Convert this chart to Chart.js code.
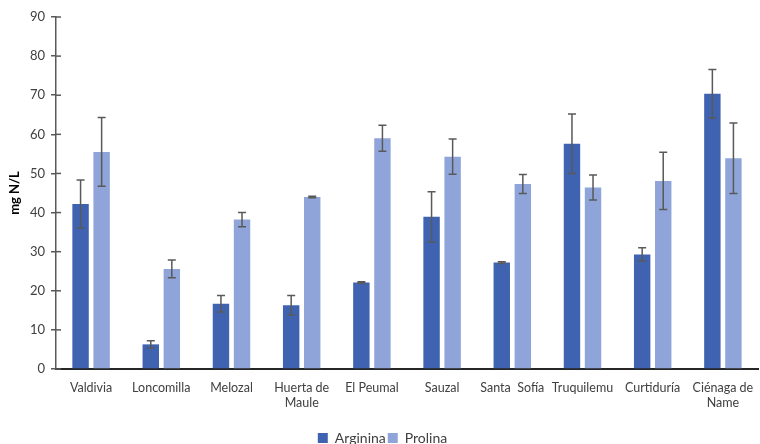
<!DOCTYPE html>
<html><head><meta charset="utf-8">
<script src="https://cdn.jsdelivr.net/npm/chart.js@4"></script>
<style>html,body{margin:0;padding:0;background:#fff}#wrap{width:760px;height:444px}</style>
</head><body><div id="wrap"><canvas id="c" width="760" height="444"></canvas></div>
<script>
const categories = ['Valdivia','Loncomilla','Melozal',['Huerta de','Maule'],'El Peumal','Sauzal','Santa  Sofía','Truquilemu','Curtiduría',['Ciénaga de','Name']];
const arginina = [42.2, 6.3, 16.7, 16.3, 22.1, 38.9, 27.2, 57.6, 29.3, 70.4];
const argininaErr = [6.1, 0.9, 2.1, 2.5, 0.2, 6.4, 0.2, 7.6, 1.7, 6.2];
const prolina = [55.5, 25.6, 38.2, 44.0, 59.0, 54.3, 47.3, 46.4, 48.1, 53.9];
const prolinaErr = [8.8, 2.3, 1.8, 0.2, 3.3, 4.5, 2.4, 3.2, 7.3, 9.0];
const yTicks = [0,10,20,30,40,50,60,70,80,90];

const FONT = 'Lato, "Liberation Sans", sans-serif';
const errs = [argininaErr, prolinaErr];

const errorBars = {
  id: 'errorBars',
  afterDatasetsDraw(chart) {
    const ctx = chart.ctx, y = chart.scales.y;
    ctx.save();
    ctx.strokeStyle = '#595959';
    ctx.lineWidth = 1.5;
    chart.data.datasets.forEach((ds, di) => {
      const meta = chart.getDatasetMeta(di);
      meta.data.forEach((bar, i) => {
        const v = ds.data[i], e = errs[di][i];
        const yt = y.getPixelForValue(v + e), yb = y.getPixelForValue(v - e);
        ctx.beginPath();
        ctx.moveTo(bar.x, yt); ctx.lineTo(bar.x, yb);
        ctx.moveTo(bar.x - 4, yt); ctx.lineTo(bar.x + 4, yt);
        ctx.moveTo(bar.x - 4, yb); ctx.lineTo(bar.x + 4, yb);
        ctx.stroke();
      });
    });
    ctx.restore();
  }
};
const yCross = {
  id: 'yCross',
  afterDraw(chart) {
    const ctx = chart.ctx, y = chart.scales.y, x0 = chart.chartArea.left;
    ctx.save();
    ctx.strokeStyle = '#595959';
    ctx.lineWidth = 1.5;
    yTicks.forEach(t => {
      const py = y.getPixelForValue(t);
      ctx.beginPath(); ctx.moveTo(x0, py); ctx.lineTo(x0 + 5, py); ctx.stroke();
    });
    ctx.restore();
  }
};

new Chart(document.getElementById('c'), {
  type: 'bar',
  data: {
    labels: categories,
    datasets: [
      { label: 'Arginina', data: arginina, backgroundColor: '#3f63b0', categoryPercentage: 0.6, barPercentage: 0.78 },
      { label: 'Prolina', data: prolina, backgroundColor: '#8fa5d9', categoryPercentage: 0.6, barPercentage: 0.78 }
    ]
  },
  options: {
    responsive: false,
    animation: false,
    layout: { padding: { left: 7, right: 2, top: 17, bottom: -11 } },
    plugins: {
      legend: {
        position: 'bottom',
        labels: { font: { family: FONT, size: 14 }, color: '#404040', boxWidth: 10, boxHeight: 10, padding: 2 }
      },
      tooltip: { enabled: false }
    },
    scales: {
      x: {
        grid: { display: false },
        border: { display: true, color: '#262626', width: 2 },
        ticks: { font: { family: FONT, size: 12.5 }, color: '#404040', padding: 3, maxRotation: 0, autoSkip: false },
        afterFit(s) { s.height = 60; }
      },
      y: {
        min: 0, max: 90,
        afterBuildTicks(s) { s.ticks = yTicks.map(v => ({ value: v })); },
        grid: { drawOnChartArea: false, tickLength: 5, color: '#595959', lineWidth: 1.5 },
        border: { display: true, color: '#595959', width: 1.5 },
        ticks: { font: { family: FONT, size: 13 }, color: '#404040', padding: 6 },
        title: { display: true, text: 'mg N/L', font: { family: FONT, size: 13, weight: 'bold' }, color: '#000', padding: 0 },
        afterFit(s) { s.width = 49; }
      }
    }
  },
  plugins: [errorBars, yCross]
});
</script>
</body></html>
